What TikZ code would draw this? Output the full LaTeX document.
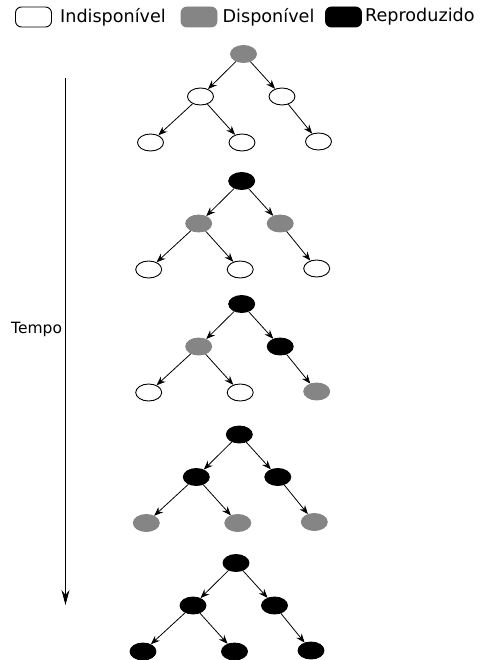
\documentclass[tikz,border=0pt]{standalone}
\usepackage{fontspec}
\setmainfont{DejaVu Sans}
\usepackage{tikz}
\usetikzlibrary{positioning,shapes.geometric,arrows.meta}
\definecolor{Cinza}{HTML}{858585}

\begin{document}
\begin{tikzpicture}[x=1pt, y=-1pt,
    estado/.style={ellipse, minimum width=26pt, minimum height=17pt, inner sep=0pt, line width=0.9pt},
    indisp/.style={estado, draw=black, fill=white},
    disp/.style={estado, draw=Cinza, fill=Cinza},
    repr/.style={estado, draw=black, fill=black},
    caixa/.style={rounded corners=6pt, minimum width=36pt, minimum height=20pt, inner sep=0pt, line width=0.9pt},
    rotulo/.style={font=\fontsize{17.6}{20}\selectfont, inner sep=2pt},
    seta/.style={line width=0.8pt, -{Stealth[length=9pt, width=7pt, inset=3pt]}},
    tempo/.style={line width=1pt, -{Stealth[length=15pt, width=8pt, inset=5pt]}}]
      \useasboundingbox (0,0) rectangle (480,660);

      % Legend
      \node[caixa, draw=black, fill=white] (li) at (33.5,17) {};
      \node[rotulo, right=6pt of li] (ti) {Indisponível};
      \node[caixa, draw=Cinza, fill=Cinza] (ld) at (199,17) {};
      \node[rotulo, right=3pt of ld] (td) {Disponível};
      \node[caixa, draw=black, fill=black] (lr) at (343.5,17) {};
      \node[rotulo, right=1pt of lr] (tr) {Reproduzido};

      % Time axis
      \coordinate (t0) at (65.5,78);
      \coordinate (t1) at (65.5,605);
      \draw[tempo] (t0) -- (t1) node[pos=0.478, left, font=\fontsize{15.5}{18}\selectfont, inner sep=3pt] (tt) {Tempo};

      % One tree per step: index/root x/root y/states of the six nodes
      \foreach \i/\px/\py/\sr/\sa/\sb/\sc/\sd/\se in {
          1/243.5/54/disp/indisp/indisp/indisp/indisp/indisp,
          2/241.7/181/repr/disp/disp/indisp/indisp/indisp,
          3/241.7/304/repr/disp/repr/indisp/indisp/disp,
          4/239.3/434.5/repr/repr/repr/disp/disp/disp,
          5/236/563/repr/repr/repr/repr/repr/repr} {
        \node[\sr] (r\i) at (\px,\py) {};
        \node[\sa] (a\i) at ([shift={(-43,42.5)}]r\i.center) {};
        \node[\sb] (b\i) at ([shift={(38.5,42.5)}]r\i.center) {};
        \node[\sc] (c\i) at ([shift={(-93,88.5)}]r\i.center) {};
        \node[\sd] (d\i) at ([shift={(-1.5,88.5)}]r\i.center) {};
        \node[\se] (e\i) at ([shift={(75,87.5)}]r\i.center) {};
        \draw[seta] (r\i) -- (a\i);
        \draw[seta] (r\i) -- (b\i);
        \draw[seta] (a\i) -- (c\i);
        \draw[seta] (a\i) -- (d\i);
        \draw[seta] (b\i) -- (e\i);
      }

    \end{tikzpicture}
\end{document}
